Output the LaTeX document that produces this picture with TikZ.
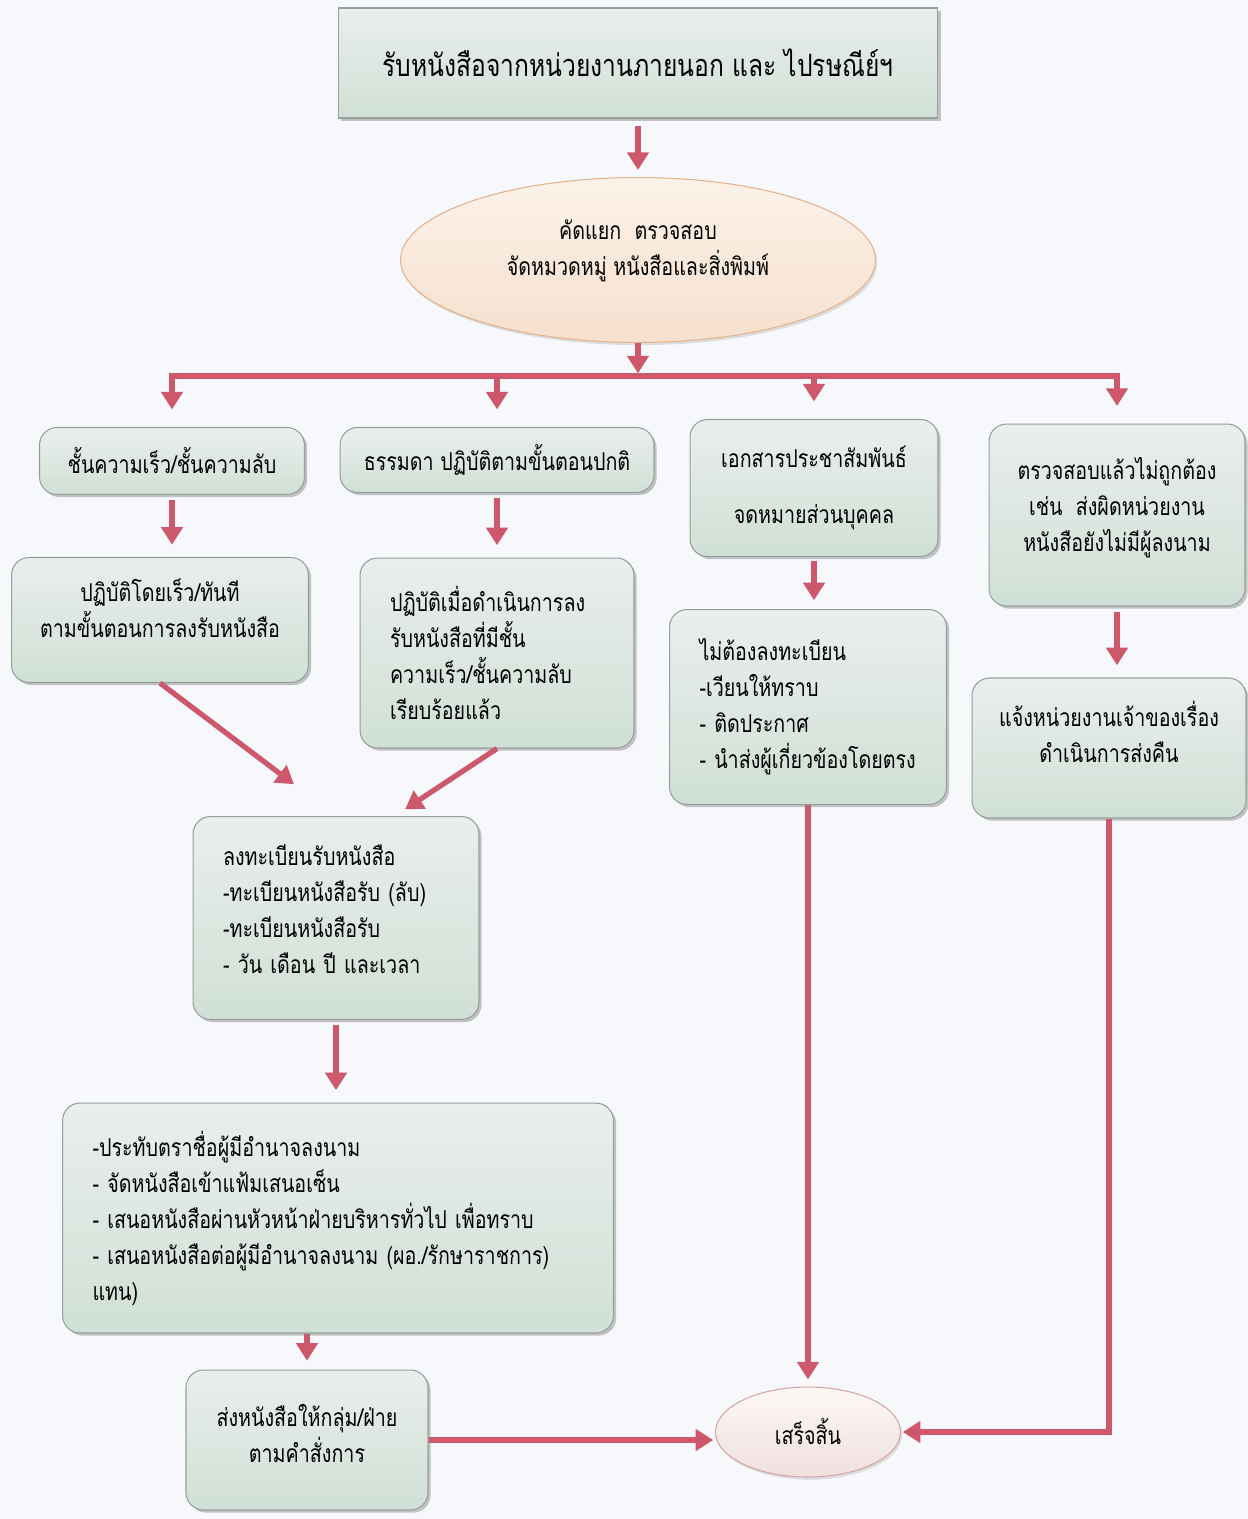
\documentclass[tikz,border=0pt]{standalone}
\usepackage{fontspec}
\newfontfamily\thaifont[Script=Thai, FakeStretch=0.8]{Loma}
\usepackage{tikz}
\usetikzlibrary{arrows.meta,shapes.geometric,shadows}
\definecolor{flowred}{RGB}{205,88,108}
\definecolor{boxtop}{RGB}{234,238,236}
\definecolor{boxbot}{RGB}{208,224,214}
\definecolor{boxline}{RGB}{150,160,155}
\definecolor{ovaltop}{RGB}{252,242,232}
\definecolor{ovalbot}{RGB}{246,224,206}
\definecolor{ovalline}{RGB}{228,178,140}
\definecolor{endtop}{RGB}{252,248,246}
\definecolor{endbot}{RGB}{240,224,222}
\definecolor{endline}{RGB}{215,165,165}
\definecolor{pagebg}{RGB}{246,248,251}

\begin{document}
\begin{tikzpicture}[
    x=0.02cm, y=-0.02cm,
    fbox/.style={rectangle, rounded corners=10pt, draw=boxline, semithick,
                 top color=boxtop, bottom color=boxbot, align=center,
                 font=\thaifont\fontsize{14}{20.5}\selectfont, inner sep=0pt,
                 drop shadow={shadow xshift=1.5pt, shadow yshift=-1.5pt,
                              fill=black!45, opacity=0.5}},
    fleft/.style={fbox, align=left, inner xsep=0.6cm},
    froot/.style={fbox, rounded corners=0pt,
                  font=\thaifont\fontsize{17.5}{24}\selectfont},
    fsort/.style={ellipse, draw=ovalline, semithick, top color=ovaltop,
                  bottom color=ovalbot, align=center, inner sep=0pt,
                  font=\thaifont\fontsize{14}{20.5}\selectfont,
                  drop shadow={shadow xshift=1pt, shadow yshift=-1.5pt,
                               fill=black!30, opacity=0.4}},
    fend/.style={fsort, draw=endline, top color=endtop, bottom color=endbot},
    fedge/.style={-{Triangle[length=10pt,width=12pt]}, line width=3pt,
                  draw=flowred},
  ]
  \fill[pagebg] (0,0) rectangle (1248,1519);
  \useasboundingbox (0,0) rectangle (1248,1519);

  \node[froot] (top) at (638,63) [minimum width=12cm, minimum height=2.2cm]
    {รับหนังสือจากหน่วยงานภายนอก และ ไปรษณีย์ฯ};
  \node[fsort] (sort) at (638,260) [minimum width=9.5cm, minimum height=3.3cm]
    {คัดแยก~~ตรวจสอบ\\ จัดหมวดหมู่ หนังสือและสิ่งพิมพ์\\[-6pt]\mbox{}};
  \coordinate (bus) at (638,376);

  \node[fbox] (A1) at (172,461) [minimum width=5.3cm, minimum height=1.34cm]
    {ชั้นความเร็ว/ชั้นความลับ};
  \node[fbox] (B1) at (497,460) [minimum width=6.28cm, minimum height=1.3cm]
    {ธรรมดา ปฏิบัติตามขั้นตอนปกติ};
  \node[fbox] (C1) at (814,488) [minimum width=4.96cm, minimum height=2.74cm]
    {เอกสารประชาสัมพันธ์\\[11pt] จดหมายส่วนบุคคล};
  \node[fbox] (D1) at (1117,515) [minimum width=5.12cm, minimum height=3.64cm]
    {ตรวจสอบแล้วไม่ถูกต้อง\\ เช่น~~ส่งผิดหน่วยงาน\\ หนังสือยังไม่มีผู้ลงนาม\\[-9pt]\mbox{}};

  \node[fbox] (A2) at (160,620) [minimum width=5.94cm, minimum height=2.5cm]
    {ปฏิบัติโดยเร็ว/ทันที\\ ตามขั้นตอนการลงรับหนังสือ\\[-7pt]\mbox{}};
  \node[fleft] (B2) at (497,653) [text width=4.28cm, minimum height=3.8cm]
    {ปฏิบัติเมื่อดำเนินการลง\\ รับหนังสือที่มีชั้น\\ ความเร็ว/ชั้นความลับ\\ เรียบร้อยแล้ว};
  \node[fleft] (C2) at (808,707) [text width=4.34cm, minimum height=3.9cm]
    {ไม่ต้องลงทะเบียน\\ -เวียนให้ทราบ\\ - ติดประกาศ\\ - นำส่งผู้เกี่ยวข้องโดยตรง};
  \node[fbox] (D2) at (1109,748) [minimum width=5.48cm, minimum height=2.8cm]
    {แจ้งหน่วยงานเจ้าของเรื่อง\\ ดำเนินการส่งคืน\\[-2pt]\mbox{}};

  \node[fleft] (E) at (336,918) [text width=4.52cm, minimum height=4.06cm]
    {ลงทะเบียนรับหนังสือ\\ -ทะเบียนหนังสือรับ (ลับ)\\ -ทะเบียนหนังสือรับ\\ - วัน เดือน ปี และเวลา\\[-10pt]\mbox{}};
  \node[fleft] (F) at (338,1218) [text width=9.82cm, minimum height=4.6cm]
    {-ประทับตราชื่อผู้มีอำนาจลงนาม\\ - จัดหนังสือเข้าแฟ้มเสนอเซ็น\\
     - เสนอหนังสือผ่านหัวหน้าฝ่ายบริหารทั่วไป เพื่อทราบ\\
     - เสนอหนังสือต่อผู้มีอำนาจลงนาม (ผอ./รักษาราชการ)\\ แทน)};
  \node[fbox] (G) at (307,1440) [minimum width=4.84cm, minimum height=2.8cm]
    {ส่งหนังสือให้กลุ่ม/ฝ่าย\\ ตามคำสั่งการ\\[-13pt]\mbox{}};
  \node[fend] (End) at (808,1432) [minimum width=3.7cm, minimum height=1.8cm]
    {เสร็จสิ้น};

  \draw[fedge, shorten <=4pt, shorten >=4pt] (top) -- (sort);
  \draw[fedge, shorten >=1.5pt] (sort) -- (bus);
  \draw[fedge, shorten >=10pt] (bus -| B1) -- (bus -| A1) -- (A1);
  \draw[fedge, shorten >=10pt] (bus -| B1) -- (bus -| D1) -- (D1);
  \draw[fedge, shorten >=10pt] (bus -| B1) -- (B1);
  \draw[fedge, shorten >=10pt] (bus -| C1) -- (C1);

  \draw[fedge, shorten <=3pt, shorten >=7pt] (A1) -- (A1 |- A2.north);
  \draw[fedge, shorten <=3pt, shorten >=7pt] (B1) -- (B2);
  \draw[fedge, shorten <=2pt, shorten >=5pt] (C1) -- (C1 |- C2.north);
  \draw[fedge, shorten <=3pt, shorten >=7pt] (D1) -- (D1 |- D2.north);

  \draw[fedge, shorten >=30pt] (A2.south) -- (E.north);
  \draw[fedge, shorten >=7pt] (B2.south) -- (E.60);
  \draw[fedge, shorten <=3pt, shorten >=7pt] (E) -- (E |- F.north);
  \draw[fedge, shorten >=5pt] (G |- F.south) -- (G);

  \draw[fedge, shorten >=4pt] (C2) -- (End);
  \draw[fedge, shorten >=1pt] (D2) |- (End);
  \draw[fedge, shorten >=1pt] (G) -- (G -| End.west);
\end{tikzpicture}
\end{document}
